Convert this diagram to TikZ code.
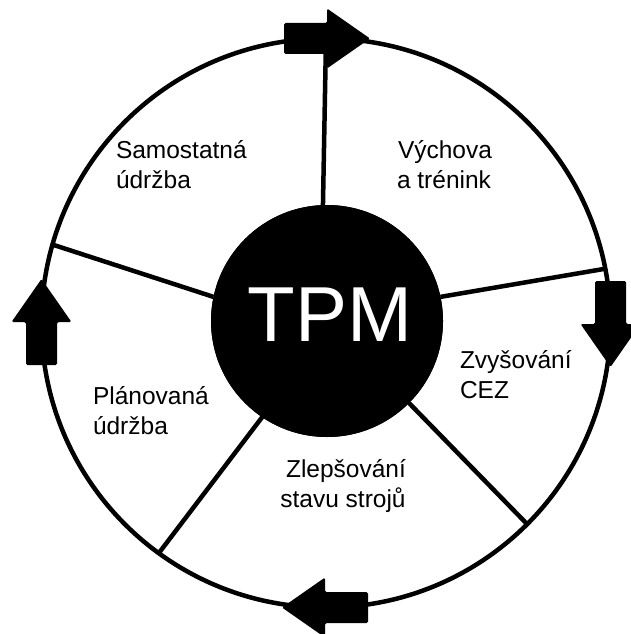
\documentclass[tikz,border=0pt]{standalone}
\usepackage{fontspec}
\setmainfont{Liberation Sans}
\begin{document}
\begin{tikzpicture}[x=1pt,y=-1pt,
  ringline/.style={line width=4.5pt},
  hubcircle/.style={circle,fill=black,minimum size=232pt,inner sep=0pt,outer sep=0pt},
  lbl/.style={inner sep=0pt,outer sep=0pt,font=\fontsize{24.5}{30}\selectfont},
  blockarrow/.style={fill=black,rounded corners=1.5pt},
]
\useasboundingbox (0,0) rectangle (630,634);
% outer ring
\node[circle,draw,ringline,minimum size=569pt,inner sep=0pt,outer sep=0pt] (ring) at (326,323) {};
\coordinate (s1) at (ring.90.8);
\coordinate (s2) at (ring.11.35);
\coordinate (s3) at (ring.-45.1);
\coordinate (s4) at (ring.234.2);
\coordinate (s5) at (ring.164.1);
% hub (placed first for its anchors, redrawn over the spoke ends)
\node[hubcircle] (tpm) at (327,321) {};
\draw[ringline] (tpm.92.4) -- (s1);
\draw[ringline] (tpm.12.7) -- (s2);
\draw[ringline] (tpm.-45.7) -- (s3);
\draw[ringline] (tpm.236.6) -- (s4);
\draw[ringline] (tpm.168.1) -- (s5);
\node[hubcircle] (tpmtop) at (tpm) {};
\node[inner sep=0pt,text=white,font=\fontsize{78}{80}\selectfont] (tpmtext) at (330,315) {TPM};
% block arrows on the ring
\foreach \px/\py/\rot in {326/38.5/0, 610.5/323/-90, 326/607.5/180, 41.5/323/90}{
  \begin{scope}[shift={(\px,\py)},rotate=\rot]
    \fill[blockarrow] (-42,-15.5) -- (1,-15.5) -- (1,-30) -- (44,0) -- (1,30) -- (1,15.5) -- (-42,15.5) -- cycle;
  \end{scope}
}
% labels
\node[lbl,anchor=base west] (l1a) at (116,158) {Samostatná};
\node[lbl,anchor=base west] (l1b) at (116,188) {údržba};
\node[lbl,anchor=base west] (l2a) at (398,158) {Výchova};
\node[lbl,anchor=base west] (l2b) at (397,188) {a trénink};
\node[lbl,anchor=base west] (l3a) at (460,368) {Zvyšování};
\node[lbl,anchor=base west] (l3b) at (460,398) {CEZ};
\node[lbl,anchor=base] (l4a) at (346,477) {Zlepšování};
\node[lbl,anchor=base] (l4b) at (343,507) {stavu strojů};
\node[lbl,anchor=base west] (l5a) at (93,404) {Plánovaná};
\node[lbl,anchor=base west] (l5b) at (93,434) {údržba};
\end{tikzpicture}
\end{document}
